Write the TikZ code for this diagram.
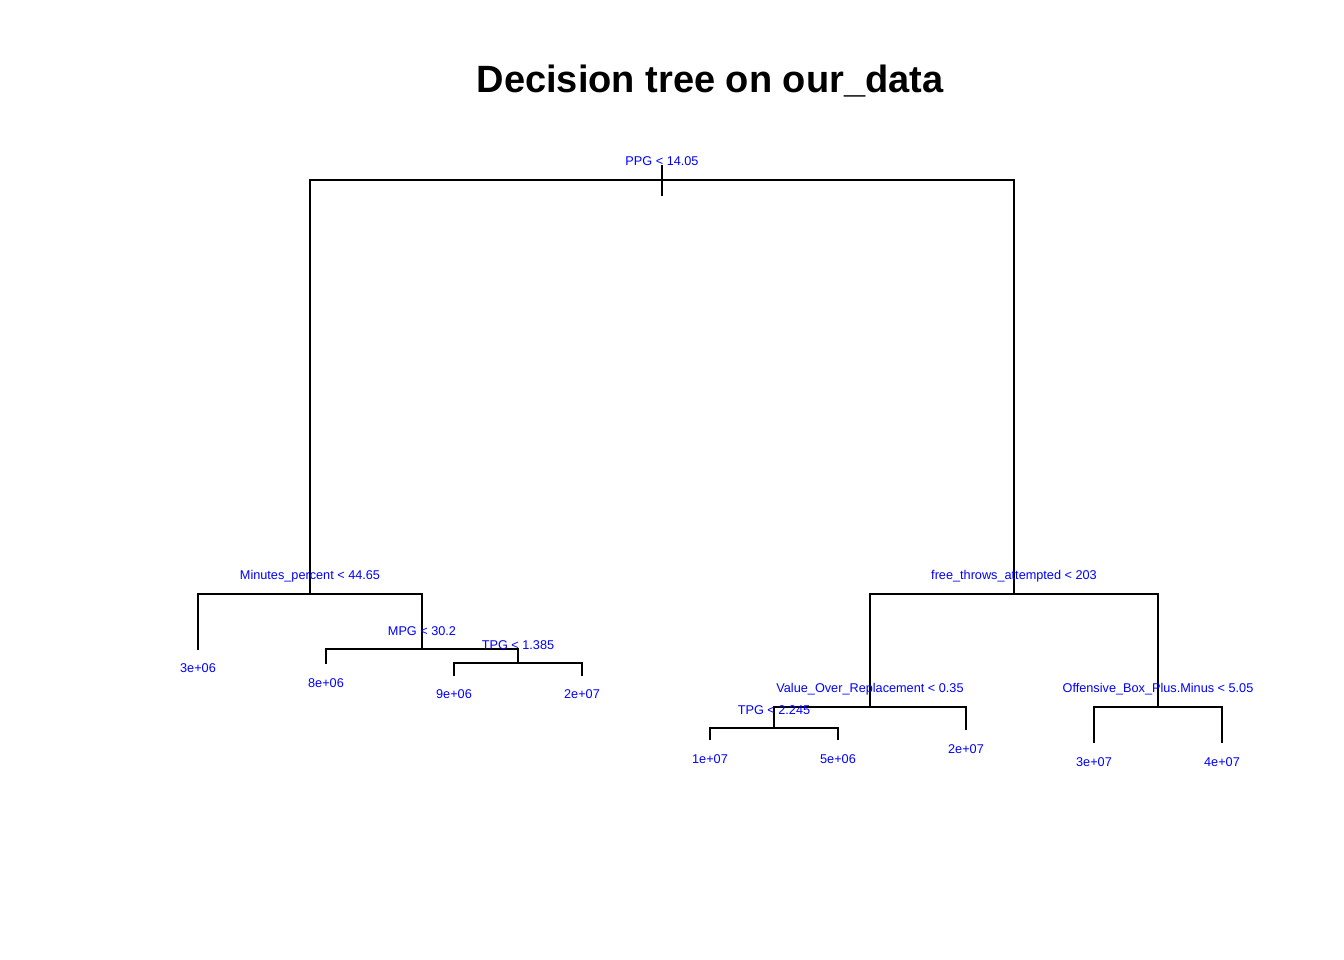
\documentclass[tikz,border=0pt]{standalone}
\usepackage{fontspec}
\setmainfont{Liberation Sans}
\usetikzlibrary{positioning}

\begin{document}
\begin{tikzpicture}[x=1pt, y=-1pt,
    branch/.style={line width=1.6pt, line cap=rect},
    splitlab/.style={text=blue, font=\fontsize{12.7}{14}\selectfont, anchor=base, inner sep=0pt},
    leaflab/.style={splitlab}]
\useasboundingbox (0,0) rectangle (1344,960);
\node[anchor=base, inner sep=0pt, font=\bfseries\fontsize{38}{44}\selectfont] (title) at (710,93) {Decision tree on our\_data};
% split points
\coordinate (ppg) at (662,180);
\coordinate (ppgtop) at (662,166);
\coordinate (ppgbot) at (662,195);
\coordinate (mins) at (310,594);
\coordinate (mpg) at (422,649);
\coordinate (tpga) at (518,663);
\coordinate (fta) at (1014,594);
\coordinate (vor) at (870,707);
\coordinate (tpgb) at (774,728);
\coordinate (obpm) at (1158,707);
% leaf ends
\coordinate (la) at (198,649);
\coordinate (lb) at (326,663);
\coordinate (lc) at (454,675);
\coordinate (ld) at (582,675);
\coordinate (le) at (710,739);
\coordinate (lf) at (838,739);
\coordinate (lg) at (966,729);
\coordinate (lh) at (1094,742);
\coordinate (li) at (1222,742);
% branches
\draw[branch] (ppgtop) -- (ppgbot);
\draw[branch] (ppg) -| (mins);
\draw[branch] (ppg) -| (fta);
\draw[branch] (mins) -| (la);
\draw[branch] (mins) -| (mpg);
\draw[branch] (mpg) -| (lb);
\draw[branch] (mpg) -| (tpga);
\draw[branch] (tpga) -| (lc);
\draw[branch] (tpga) -| (ld);
\draw[branch] (fta) -| (vor);
\draw[branch] (fta) -| (obpm);
\draw[branch] (vor) -| (tpgb);
\draw[branch] (vor) -| (lg);
\draw[branch] (tpgb) -| (le);
\draw[branch] (tpgb) -| (lf);
\draw[branch] (obpm) -| (lh);
\draw[branch] (obpm) -| (li);
% split labels
\node[splitlab] (ppglab) at (662,165.5) {PPG < 14.05};
\node[splitlab] (minslab) at (310,579.5) {Minutes\_percent < 44.65};
\node[splitlab] (mpglab) at (422,635.5) {MPG < 30.2};
\node[splitlab] (tpgalab) at (518,649) {TPG < 1.385};
\node[splitlab] (ftalab) at (1014,579.5) {free\_throws\_attempted < 203};
\node[splitlab] (vorlab) at (870,692.5) {Value\_Over\_Replacement < 0.35};
\node[splitlab] (tpgblab) at (774,714.5) {TPG < 2.245};
\node[splitlab] (obpmlab) at (1158,692.5) {Offensive\_Box\_Plus.Minus < 5.05};
% leaf labels
\node[leaflab] (lalab) at (198,672.5) {3e+06};
\node[leaflab] (lblab) at (326,687.5) {8e+06};
\node[leaflab] (lclab) at (454,698) {9e+06};
\node[leaflab] (ldlab) at (582,698) {2e+07};
\node[leaflab] (lelab) at (710,763) {1e+07};
\node[leaflab] (lflab) at (838,763) {5e+06};
\node[leaflab] (lglab) at (966,753) {2e+07};
\node[leaflab] (lhlab) at (1094,766) {3e+07};
\node[leaflab] (lilab) at (1222,766) {4e+07};
\end{tikzpicture}
\end{document}
